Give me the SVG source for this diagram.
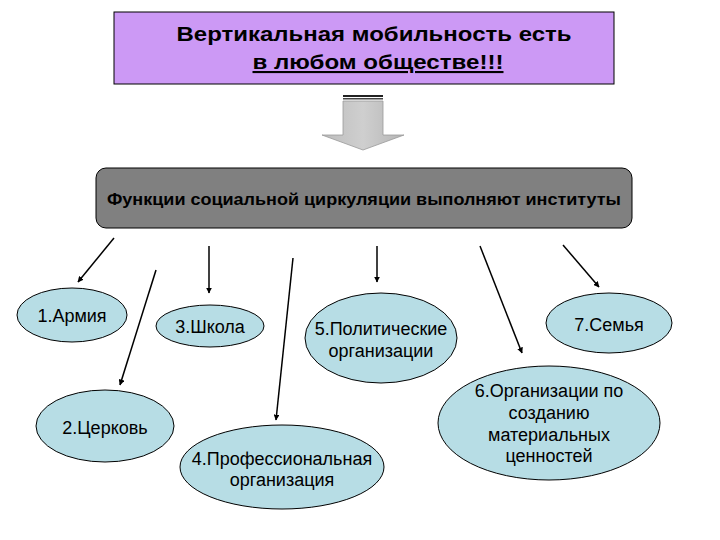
<svg xmlns="http://www.w3.org/2000/svg" width="720" height="540" viewBox="0 0 720 540">
<defs>
<style>
.t{font-family:"Liberation Sans",Arial,sans-serif;fill:#000}
.n{font-size:18px;text-anchor:middle}
.el{fill:#B7DDE5;stroke:#000;stroke-width:1}
.c{stroke:#000;stroke-width:1.5;fill:none;marker-end:url(#ah)}
</style>
<marker id="ah" viewBox="0 0 10 10" refX="9" refY="5" markerWidth="6" markerHeight="6" orient="auto" markerUnits="userSpaceOnUse">
<path d="M0,0 L10,5 L0,10 z" fill="#000"/>
</marker>
<linearGradient id="ga" x1="0" y1="0" x2="1" y2="0">
<stop offset="0" stop-color="#BDBDBD"/>
<stop offset="0.5" stop-color="#CFCFCF"/>
<stop offset="1" stop-color="#B5B5B5"/>
</linearGradient>
</defs>
<rect width="720" height="540" fill="#fff"/>
<g id="title">
<rect x="114" y="12" width="500" height="72" fill="#CC99F5" stroke="#000" stroke-width="1"/>
<text class="t" x="374" y="41" font-size="21" font-weight="bold" text-anchor="middle" textLength="395" lengthAdjust="spacingAndGlyphs">Вертикальная мобильность есть</text>
<text class="t" x="378" y="69" font-size="21" font-weight="bold" text-anchor="middle" text-decoration="underline" textLength="251" lengthAdjust="spacingAndGlyphs">в любом обществе!!!</text>
</g>
<g id="bigarrow">
<rect x="343" y="95" width="40" height="2" fill="#222"/>
<rect x="343" y="98" width="40" height="1.5" fill="#444"/>
<path d="M343,101 H383 V135 H404 L363,150 L322,135 H343 Z" fill="url(#ga)" stroke="#999" stroke-width="0.8"/>
</g>
<g id="institutions">
<rect x="96" y="168" width="536" height="60" rx="10" ry="10" fill="#808080" stroke="#000" stroke-width="1"/>
<text class="t" x="364" y="205" font-size="16" font-weight="bold" text-anchor="middle" textLength="514" lengthAdjust="spacingAndGlyphs">Функции социальной циркуляции выполняют институты</text>
</g>
<g id="connectors">
<line class="c" x1="114" y1="238" x2="78" y2="282"/>
<line class="c" x1="156" y1="270" x2="120" y2="385"/>
<line class="c" x1="209" y1="246" x2="209" y2="293"/>
<line class="c" x1="293" y1="258" x2="276" y2="420"/>
<line class="c" x1="377" y1="246" x2="377" y2="282"/>
<line class="c" x1="480" y1="246" x2="522" y2="353"/>
<line class="c" x1="563" y1="245" x2="599" y2="287"/>
</g>
<g id="n1">
<ellipse class="el" cx="72" cy="315" rx="55" ry="27"/>
<text class="t n" x="72" y="322">1.Армия</text>
</g>
<g id="n2">
<ellipse class="el" cx="105" cy="426" rx="69" ry="36"/>
<text class="t n" x="105" y="434">2.Церковь</text>
</g>
<g id="n3">
<ellipse class="el" cx="210" cy="326" rx="54" ry="21"/>
<text class="t n" x="210" y="333">3.Школа</text>
</g>
<g id="n4">
<ellipse class="el" cx="282" cy="467" rx="102" ry="42"/>
<text class="t n" x="282" y="465">4.Профессиональная</text>
<text class="t n" x="282" y="486">организация</text>
</g>
<g id="n5">
<ellipse class="el" cx="381" cy="338" rx="76" ry="45"/>
<text class="t n" x="381" y="335">5.Политические</text>
<text class="t n" x="381" y="357">организации</text>
</g>
<g id="n6">
<ellipse class="el" cx="549" cy="423" rx="111" ry="57"/>
<text class="t n" x="549" y="397">6.Организации по</text>
<text class="t n" x="549" y="419">созданию</text>
<text class="t n" x="549" y="441">материальных</text>
<text class="t n" x="549" y="462">ценностей</text>
</g>
<g id="n7">
<ellipse class="el" cx="609" cy="323" rx="63" ry="30"/>
<text class="t n" x="609" y="331">7.Семья</text>
</g>
</svg>
